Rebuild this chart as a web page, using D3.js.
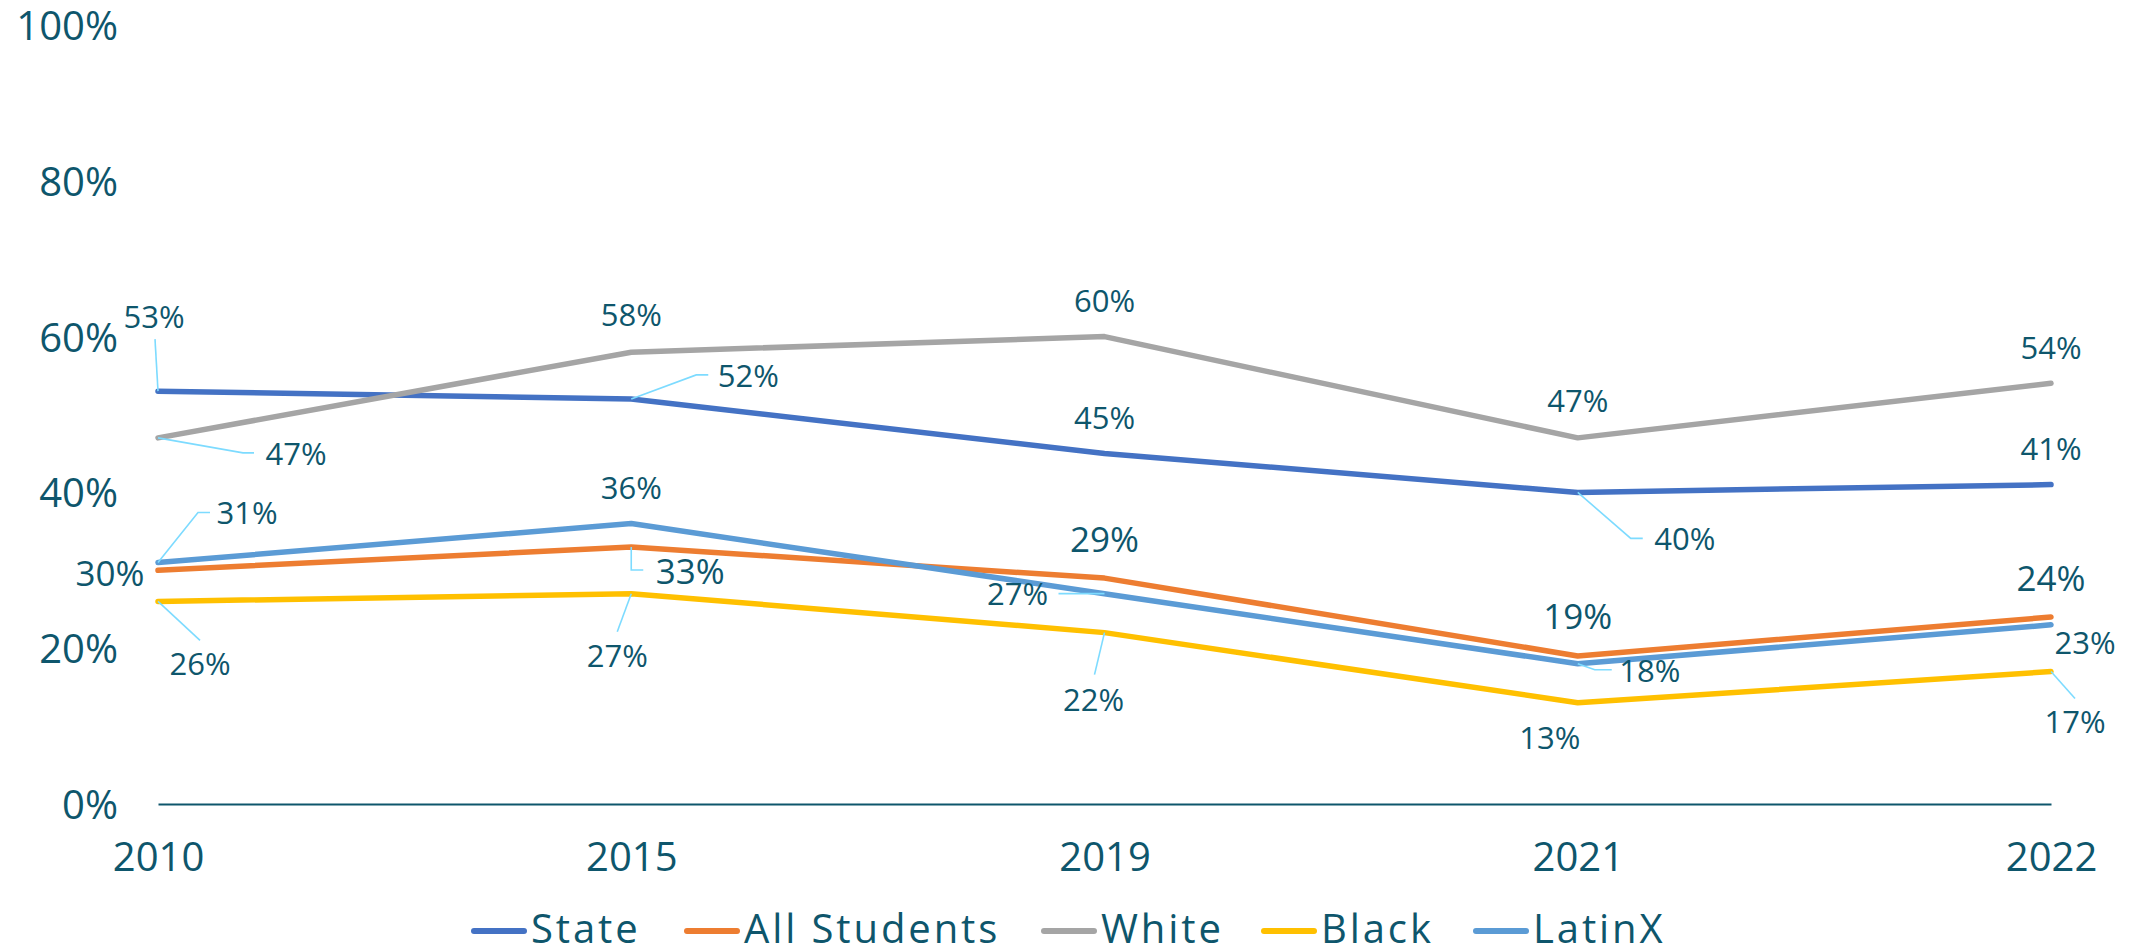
<!DOCTYPE html>
<html>
<head>
<meta charset="utf-8">
<script src="https://cdn.jsdelivr.net/npm/d3@7"></script>
<style>
  html, body { margin: 0; padding: 0; background: #ffffff; }
  svg { display: block; font-family: "Open Sans", sans-serif; }
</style>
</head>
<body>
<svg id="chart" width="2139" height="950"></svg>
<script>
// ---------- data ----------
const years = ["2010", "2015", "2019", "2021", "2022"];
const seriesNames = ["State", "All Students", "White", "Black", "LatinX"];
const stateValues = [0.53, 0.52, 0.45, 0.40, 0.41];
const allStudentsValues = [0.30, 0.33, 0.29, 0.19, 0.24];
const whiteValues = [0.47, 0.58, 0.60, 0.47, 0.54];
const blackValues = [0.26, 0.27, 0.22, 0.13, 0.17];
const latinxValues = [0.31, 0.36, 0.27, 0.18, 0.23];
const yTickValues = [0, 0.2, 0.4, 0.6, 0.8, 1.0];

// ---------- styles / layout ----------
const colors = ["#4472C4", "#ED7D31", "#A5A5A5", "#FFC000", "#5B9BD5"];
const textColor = "#0E566C";
const leaderColor = "#7DDBFF";

// data label placement: [dx, dy] of label centre relative to point, leader polyline offsets
const labelLayout = [
  [ {d:[-4,-74], l:[[0,0],[-3,-52]]}, {d:[117,-23], l:[[0,0],[65,-24],[77,-24]]}, {d:[0,-36]}, {d:[107,46], l:[[0,0],[53,46],[65,46]]}, {d:[0,-36]} ],
  [ {d:[-48,3]}, {d:[59,24], l:[[0,0],[0,23],[12,23]]}, {d:[0,-39]}, {d:[0,-40]}, {d:[0,-39]} ],
  [ {d:[138,16], l:[[0,0],[85,15],[96,15]]}, {d:[0,-37]}, {d:[0,-36]}, {d:[0,-37]}, {d:[0,-36]} ],
  [ {d:[42,62], l:[[0,0],[42,39]]}, {d:[-14,62], l:[[0,0],[-14,38]]}, {d:[-11,67], l:[[0,0],[-10,42]]}, {d:[-28,35]}, {d:[24,50], l:[[0,0],[24,27]]} ],
  [ {d:[89,-50], l:[[0,0],[40,-50],[52,-50]]}, {d:[0,-36]}, {d:[-87,0], l:[[0,0],[-46,0]]}, {d:[72,7], l:[[0,0],[17,6],[34,6]]}, {d:[34,18]} ]
];
const labelFontSizes = [31, 35, 31, 31, 31];

const series = [stateValues, allStudentsValues, whiteValues, blackValues, latinxValues]
  .map((vals, i) => ({ name: seriesNames[i], color: colors[i], values: vals }));

const svg = d3.select("#chart");

const x = d3.scalePoint().domain(years).range([158, 2051]).padding(0);
const y = d3.scaleLinear().domain([0, 1]).range([804, 25]);

// y axis (labels only)
const yAxis = svg.append("g")
  .attr("transform", "translate(128,0)")
  .call(d3.axisLeft(y).tickValues(yTickValues).tickFormat(d3.format(".0%")).tickSize(0).tickPadding(10));
yAxis.select(".domain").remove();
yAxis.selectAll("text")
  .attr("fill", textColor)
  .attr("font-size", 40)
  .attr("font-family", "Open Sans, sans-serif")
  .attr("dy", "0.36em");

// x axis
const xAxis = svg.append("g")
  .attr("transform", "translate(0,804)")
  .call(d3.axisBottom(x).tickSize(0).tickSizeOuter(0));
xAxis.select(".domain").attr("stroke", textColor).attr("stroke-width", 2);
xAxis.selectAll("text")
  .attr("fill", textColor)
  .attr("font-size", 40)
  .attr("font-family", "Open Sans, sans-serif")
  .attr("y", 53)
  .attr("dy", "0.36em");

// lines
const line = d3.line()
  .x((d, i) => x(years[i]))
  .y(d => y(d));

svg.append("g").selectAll("path")
  .data(series)
  .join("path")
  .attr("d", d => line(d.values))
  .attr("fill", "none")
  .attr("stroke", d => d.color)
  .attr("stroke-width", 5.5)
  .attr("stroke-linejoin", "round")
  .attr("stroke-linecap", "round");

// leader lines & labels
const labelsG = svg.append("g");
series.forEach((s, si) => {
  s.values.forEach((v, i) => {
    const px = x(years[i]), py = y(v);
    const lay = labelLayout[si][i];
    if (lay.l) {
      labelsG.append("polyline")
        .attr("points", lay.l.map(p => [px + p[0], py + p[1]].join(",")).join(" "))
        .attr("fill", "none")
        .attr("stroke", leaderColor)
        .attr("stroke-width", 1.6);
    }
    labelsG.append("text")
      .attr("x", px + lay.d[0])
      .attr("y", py + lay.d[1])
      .attr("dy", "0.36em")
      .attr("text-anchor", "middle")
      .attr("fill", textColor)
      .attr("font-size", labelFontSizes[si])
      .text(d3.format(".0%")(v));
  });
});

// legend
const legendX = [471, 684, 1041, 1261, 1473];
const legend = svg.append("g").attr("transform", "translate(0,929)");
series.forEach((s, i) => {
  const g = legend.append("g").attr("transform", `translate(${legendX[i]},0)`);
  g.append("line")
    .attr("x1", 3).attr("x2", 53).attr("y1", 2).attr("y2", 2)
    .attr("stroke", s.color).attr("stroke-width", 6).attr("stroke-linecap", "round");
  g.append("text")
    .attr("x", 60).attr("y", 0).attr("dy", "0.36em")
    .attr("fill", textColor)
    .attr("font-size", 40)
    .attr("letter-spacing", 2.9)
    .text(s.name);
});
</script>
</body>
</html>
